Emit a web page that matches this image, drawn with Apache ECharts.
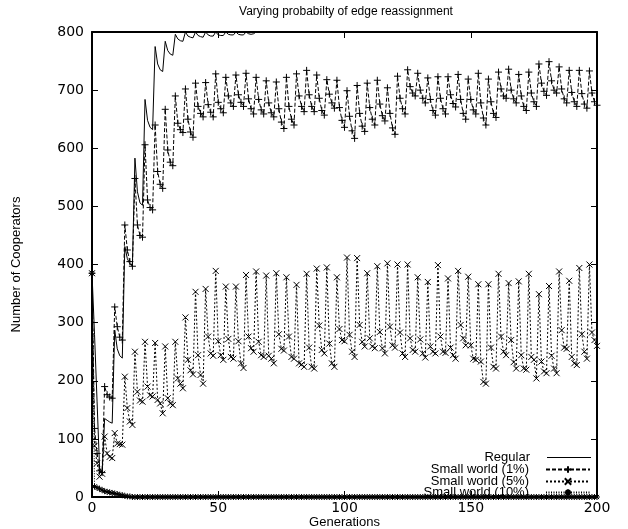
<!DOCTYPE html>
<html>
<head>
<meta charset="utf-8">
<script src="https://cdn.jsdelivr.net/npm/echarts@6/dist/echarts.min.js"></script>
<style>
html,body{margin:0;padding:0;background:#fff;}
#chart{width:628px;height:529px;}
</style>
</head>
<body>
<div id="chart"></div>
<script>
// Tick labels
var xTicks = [0, 50, 100, 150, 200];
var yTicks = [0, 100, 200, 300, 400, 500, 600, 700, 800];
var seriesNames = ['Regular', 'Small world (1%)', 'Small world (5%)', 'Small world (10%)'];

// Number of cooperators per generation (generation = index, 0..200)
var regular = [
385,280,165,50,42, 135,132,129,127, 287,255,243,239, 431,410,401,398, 583,525,506,502,
684,648,636,632, 775,745,735,732, 784,768,762,760, 796,788,785,784, 800,793,791,790,
800,794,792,791, 800,795,793,793, 800,795,794,794, 800,796,795,795, 800,796,795,795,
800,797,796,797, 800,800,800,800,800,800,800,800,800,800,800,800,800,800,800,800,
800,800,800,800,800,800,800,800,800,800,800,800,800,800,800,800,800,800,800,800,
800,800,800,800,800,800,800,800,800,800,800,800,800,800,800,800,800,800,800,800,
800,800,800,800,800,800,800,800,800,800,800,800,800,800,800,800,800,800,800,800,
800,800,800,800,800,800,800,800,800,800,800,800,800,800,800,800,800,800,800,800,
800,800,800,800,800,800,800,800,800,800,800,800,800,800,800,800,800,800,800,800,
800,800,800,800,800,800,800,800,800,800,800,800,800,800,800,800,800,800,800,800
];

var sw1 = [
385,118,75,45,42,
190,176,172,170, 327,293,275,270, 468,425,405,397, 548,468,450,447,
606,511,498,494, 640,560,538,531, 667,597,576,570, 690,643,632,627,
702,650,628,619, 712,672,660,654, 713,675,662,654, 728,679,668,661,
722,690,678,672, 726,692,679,672, 729,685,668,659, 722,684,666,659,
716,678,661,654, 714,668,645,634, 722,672,650,640, 728,690,672,663,
734,692,672,663, 726,686,665,657, 718,693,678,669, 717,670,648,636,
699,655,630,617, 708,660,638,629, 712,670,650,640, 717,676,656,647,
704,660,635,624, 724,686,668,659, 735,706,695,690, 729,700,686,678,
721,684,665,657, 723,686,668,659, 723,692,677,671, 727,684,660,650,
719,684,666,659, 729,678,652,640, 719,680,660,653, 731,702,690,686,
736,700,685,678, 727,690,672,665, 731,695,680,672, 745,712,698,691,
749,716,700,695, 740,702,685,678, 734,696,680,672, 734,694,676,669,
733,695,680,674
];

var sw5 = [
385,88,58,35,40,
104,75,69,67, 110,92,91,90, 207,153,130,124, 250,181,166,164,
267,190,175,173, 265,167,161,144, 259,170,161,158, 267,204,195,187,
309,236,218,211, 353,244,210,195, 358,276,247,243, 389,268,244,236,
362,272,241,238, 362,268,230,222, 382,276,256,250, 388,267,244,241,
381,243,238,230, 385,280,255,252, 378,276,241,238, 365,230,228,224,
384,257,224,221, 393,295,253,247, 395,264,230,224, 378,289,270,268,
412,279,250,241, 411,296,267,259, 385,273,259,256, 397,284,256,247,
402,293,261,257, 400,283,247,241, 400,273,253,250, 378,271,247,240,
370,259,250,247, 399,276,250,248, 376,257,244,238, 389,296,273,261,
379,261,238,236, 366,233,198,195, 366,257,224,221, 384,276,250,244,
368,270,232,221, 371,244,221,219, 384,241,236,204, 349,233,216,213,
363,243,221,213, 388,287,257,255, 372,241,230,227, 394,280,250,238,
400,283,270,260
];

var sw10 = [
385,18,16,14,12,10,9,8,7,6,5,4,3,2,1,1,
0,0,0,0,0,0,0,0,0,0,0,0,0,0,0,0,0,0,0,0,
0,0,0,0,0,0,0,0,0,0,0,0,0,0,0,0,0,0,0,0,
0,0,0,0,0,0,0,0,0,0,0,0,0,0,0,0,0,0,0,0,
0,0,0,0,0,0,0,0,0,0,0,0,0,0,0,0,0,0,0,0,
0,0,0,0,0,0,0,0,0,0,0,0,0,0,0,0,0,0,0,0,
0,0,0,0,0,0,0,0,0,0,0,0,0,0,0,0,0,0,0,0,
0,0,0,0,0,0,0,0,0,0,0,0,0,0,0,0,0,0,0,0,
0,0,0,0,0,0,0,0,0,0,0,0,0,0,0,0,0,0,0,0,
0,0,0,0,0,0,0,0,0,0,0,0,0,0,0,0,0,0,0,0,
0,0,0,0,0
];

var FONT = 'Liberation Sans, Arial, Helvetica, sans-serif';
var TICKFONT = 'DejaVu Sans, Liberation Sans, sans-serif';
var SYM_PLUS = 'path://M5,0L5,10M0,5L10,5';
var SYM_CROSS = 'path://M0,0L10,10M10,0L0,10';
var SYM_STAR = 'path://M5,0L5,10M0,5L10,5M1.5,1.5L8.5,8.5M8.5,1.5L1.5,8.5';

function pairs(arr) { return arr.map(function (v, i) { return [i, v]; }); }

var chart = echarts.init(document.getElementById('chart'), null, {renderer: 'canvas'});

var axisCommon = {
  axisLine: {show: true, onZero: false, lineStyle: {color: '#000', width: 2}},
  axisTick: {show: true, inside: true, length: 6, lineStyle: {color: '#000', width: 1}},
  splitLine: {show: false}
};

function symStyle() {
  return {color: '#000', borderColor: '#000', borderWidth: 1};
}

function legendFor(name, top, iconH, icon) {
  return {
    data: [icon ? {name: name, icon: icon} : name],
    right: 32, top: top, align: 'right',
    itemWidth: 44, itemHeight: iconH, selectedMode: false,
    textStyle: {fontFamily: FONT, fontSize: 13, color: '#000', padding: [0, 12, 0, 0]}
  };
}

var option = {
  animation: false,
  backgroundColor: '#fff',
  title: {
    text: 'Varying probabilty of edge reassignment',
    left: 341, top: 1, textAlign: 'center',
    textStyle: {fontFamily: FONT, fontSize: 12, fontWeight: 'normal', color: '#000'}
  },
  grid: {left: 92, right: 31, top: 32, bottom: 32, containLabel: false, outerBoundsMode: 'none'},
  xAxis: [
    Object.assign({}, axisCommon, {
      type: 'value', min: 0, max: 200, interval: 50, position: 'bottom',
      name: 'Generations', nameLocation: 'middle', nameGap: 19, nameMoveOverlap: false,
      nameTextStyle: {fontFamily: FONT, fontSize: 13, color: '#000'},
      axisLabel: {fontFamily: TICKFONT, fontSize: 14, color: '#000', margin: 4,
        formatter: function (v) { return xTicks.indexOf(v) >= 0 ? String(v) : ''; }}
    }),
    Object.assign({}, axisCommon, {
      type: 'value', min: 0, max: 200, interval: 50, position: 'top',
      axisLabel: {show: false}
    })
  ],
  yAxis: [
    Object.assign({}, axisCommon, {
      type: 'value', min: 0, max: 800, interval: 100, position: 'left',
      name: 'Number of Cooperators', nameLocation: 'middle', nameGap: 69, nameMoveOverlap: false,
      nameTextStyle: {fontFamily: FONT, fontSize: 13, color: '#000'},
      axisLabel: {fontFamily: TICKFONT, fontSize: 14, color: '#000', margin: 8,
        formatter: function (v) { return yTicks.indexOf(v) >= 0 ? String(v) : ''; }}
    }),
    Object.assign({}, axisCommon, {
      type: 'value', min: 0, max: 800, interval: 100, position: 'right',
      axisLabel: {show: false}
    })
  ],
  legend: [
    legendFor(seriesNames[0], 446, 1, 'rect'),
    legendFor(seriesNames[1], 458, 8),
    legendFor(seriesNames[2], 470, 8),
    legendFor(seriesNames[3], 481, 8)
  ],
  series: [
    {
      name: seriesNames[0], type: 'line', data: pairs(regular),
      symbol: 'none', silent: true,
      lineStyle: {color: '#000', width: 1, type: 'solid'},
      itemStyle: {color: '#000'}, z: 5
    },
    {
      name: seriesNames[1], type: 'line', data: pairs(sw1),
      symbol: SYM_PLUS, symbolSize: 7, showAllSymbol: true, silent: true,
      lineStyle: {color: '#000', width: 1, type: [4, 2]},
      itemStyle: symStyle(), z: 4
    },
    {
      name: seriesNames[2], type: 'line', data: pairs(sw5),
      symbol: SYM_CROSS, symbolSize: 6, showAllSymbol: true, silent: true,
      lineStyle: {color: '#000', width: 1, type: [2, 2]},
      itemStyle: symStyle(), z: 3
    },
    {
      name: seriesNames[3], type: 'line', data: pairs(sw10),
      symbol: SYM_STAR, symbolSize: 6, showAllSymbol: true, silent: true,
      lineStyle: {color: '#000', width: 1, type: [1, 1.5]},
      itemStyle: symStyle(), z: 2
    }
  ]
};
chart.setOption(option);
</script>
</body>
</html>
